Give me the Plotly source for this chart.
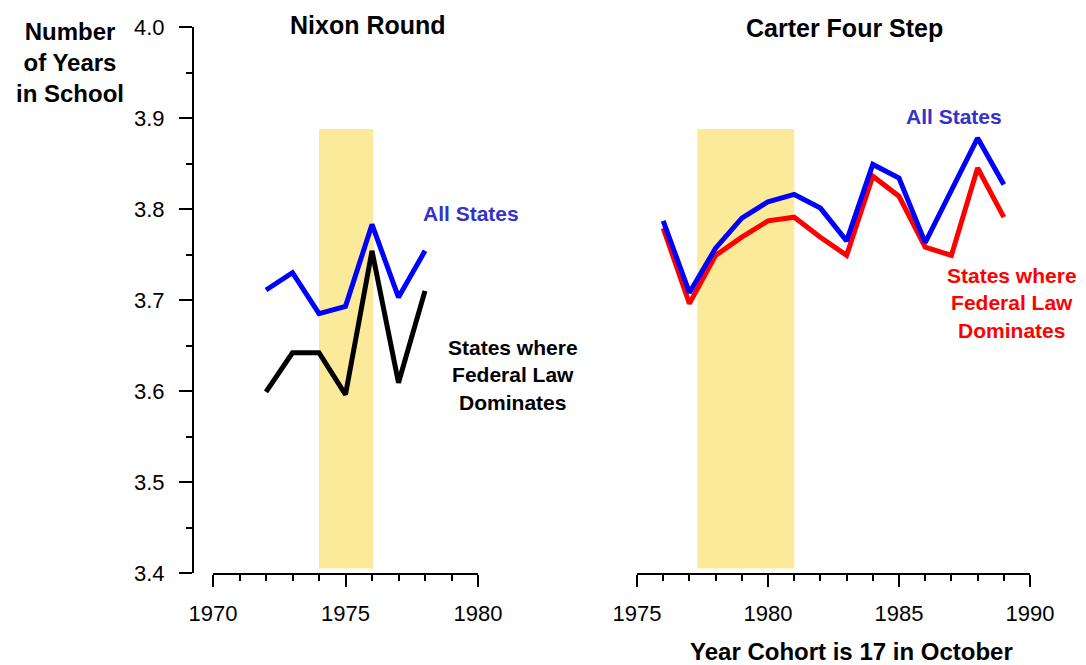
import plotly.graph_objects as go

# ---- data ----
nixon_years = [1972, 1973, 1974, 1975, 1976, 1977, 1978]
nixon_all = [3.711, 3.730, 3.685, 3.693, 3.783, 3.703, 3.754]
nixon_fed = [3.599, 3.642, 3.642, 3.596, 3.754, 3.609, 3.710]

carter_years = list(range(1976, 1990))
carter_all = [3.787, 3.708, 3.757, 3.790, 3.808, 3.816, 3.801, 3.765,
              3.849, 3.834, 3.763, 3.819, 3.878, 3.827]
carter_fed = [3.779, 3.696, 3.749, 3.769, 3.787, 3.791, 3.769, 3.749,
              3.836, 3.814, 3.758, 3.749, 3.845, 3.791]

nixon_band = [1974.0, 1976.05]
carter_band = [1977.3, 1981.0]
band_y = [3.405, 3.888]

y_ticks = [3.4, 3.5, 3.6, 3.7, 3.8, 3.9, 4.0]
y_labels = ["3.4", "3.5", "3.6", "3.7", "3.8", "3.9", "4.0"]
nixon_xticks = [1970, 1975, 1980]
carter_xticks = [1975, 1980, 1985, 1990]

# page body margin of 8px offsets the figure; size it to fill the rest of the window
OFF = 8
W, H = 1086 - OFF, 665 - OFF
FONT = "Arial, Liberation Sans, sans-serif"
BLUE = "#0000FF"
RED = "#FF0000"
BAND = "#FCEA9B"


def px(x):
    return (x - OFF) / W


def py(y):
    return 1 - (y - OFF) / H


fig = go.Figure()
fig.add_trace(go.Scatter(x=nixon_years, y=nixon_all, mode="lines",
                         line=dict(color=BLUE, width=5), xaxis="x", yaxis="y"))
fig.add_trace(go.Scatter(x=nixon_years, y=nixon_fed, mode="lines",
                         line=dict(color="black", width=5), xaxis="x", yaxis="y"))
fig.add_trace(go.Scatter(x=carter_years, y=carter_fed, mode="lines",
                         line=dict(color=RED, width=5), xaxis="x2", yaxis="y2"))
fig.add_trace(go.Scatter(x=carter_years, y=carter_all, mode="lines",
                         line=dict(color=BLUE, width=5), xaxis="x2", yaxis="y2"))

fig.add_shape(type="rect", xref="x", yref="y", x0=nixon_band[0], x1=nixon_band[1],
              y0=band_y[0], y1=band_y[1], fillcolor=BAND, line_width=0, layer="below")
fig.add_shape(type="rect", xref="x2", yref="y2", x0=carter_band[0], x1=carter_band[1],
              y0=band_y[0], y1=band_y[1], fillcolor=BAND, line_width=0, layer="below")

ydom = [py(573), py(27)]
xaxis_common = dict(showgrid=False, zeroline=False, showline=True, linecolor="black",
                    linewidth=2, ticks="outside", ticklen=12, tickwidth=2,
                    tickcolor="black", tickfont=dict(family=FONT, size=22, color="black"),
                    ticklabelstandoff=8, automargin=False,
                    minor=dict(dtick=1, ticks="outside", ticklen=6, tickwidth=2,
                               tickcolor="black", showgrid=False))

fig.update_layout(
    width=W, height=H,
    margin=dict(l=0, r=0, t=0, b=0, pad=0, autoexpand=False),
    paper_bgcolor="white", plot_bgcolor="white",
    showlegend=False,
    xaxis=dict(domain=[px(213), px(478)], range=[1970, 1980], anchor="y",
               tickvals=nixon_xticks, ticktext=[str(v) for v in nixon_xticks],
               **xaxis_common),
    xaxis2=dict(domain=[px(637), px(1030)], range=[1975, 1990], anchor="y2",
                tickvals=carter_xticks, ticktext=[str(v) for v in carter_xticks],
                **xaxis_common),
    yaxis=dict(domain=ydom, range=[3.4, 4.0], anchor="free", position=px(193),
               showgrid=False, zeroline=False, showline=True, linecolor="black",
               linewidth=2, ticks="outside", ticklen=13, tickwidth=2, tickcolor="black",
               tickvals=y_ticks, ticktext=y_labels, ticklabelstandoff=10,
               automargin=False,
               tickfont=dict(family=FONT, size=22, color="black"),
               minor=dict(dtick=0.05, ticks="outside", ticklen=6, tickwidth=2,
                          tickcolor="black", showgrid=False)),
    yaxis2=dict(domain=ydom, range=[3.4, 4.0], anchor="x2", matches="y",
                visible=False, automargin=False),
)

anns = [
    dict(text="<b>Number<br>of Years<br>in School</b>", x=px(70), y=py(62), size=24,
         color="black"),
    dict(text="<b>Nixon Round</b>", x=px(368), y=py(25), size=25, color="black"),
    dict(text="<b>Carter Four Step</b>", x=px(844), y=py(28), size=25, color="black"),
    dict(text="<b>All States</b>", x=px(471), y=py(213), size=21, color="#3333CC"),
    dict(text="<b>All States</b>", x=px(954), y=py(116), size=21, color="#3333CC"),
    dict(text="<b>States where<br>Federal Law<br>Dominates</b>", x=px(513), y=py(375),
         size=21, color="black"),
    dict(text="<b>States where<br>Federal Law<br>Dominates</b>", x=px(1012), y=py(303),
         size=21, color=RED),
    dict(text="<b>Year Cohort is 17 in October</b>", x=px(851), y=py(651), size=24,
         color="black"),
]
for a in anns:
    fig.add_annotation(text=a["text"], x=a["x"], y=a["y"], xref="paper", yref="paper",
                       xanchor="center", yanchor="middle", showarrow=False,
                       align="center",
                       font=dict(family=FONT, size=a["size"], color=a["color"]))

fig.write_html("out.html")
